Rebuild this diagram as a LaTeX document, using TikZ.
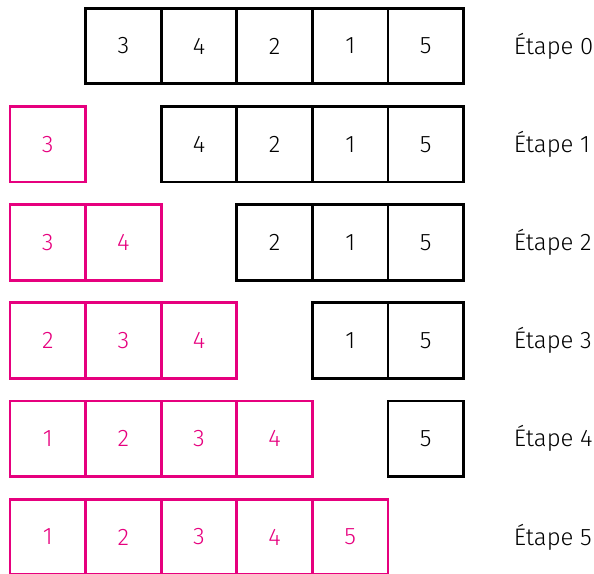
\documentclass[tikz,border=0pt]{standalone}
\usepackage{fontspec}
\setmainfont{Fira Sans}[UprightFont=* Light]
\usetikzlibrary{positioning}
\definecolor{rose}{RGB}{230,0,126}
\tikzset{
  cell/.style={draw, line width=2.1pt, minimum width=1.89cm, minimum height=1.89cm,
      inner sep=0pt, font=\fontsize{17}{20}\selectfont},
  done/.style={cell, draw=rose, text=rose},
  todo/.style={cell, draw=black},
  stage/.style={anchor=base west, font=\fontsize{17}{20}\selectfont},
}

\begin{document}
\begin{tikzpicture}[x=0.025cm, y=-0.025cm]
  \useasboundingbox (0,0) rectangle (594,574);
  % sorted part
  \foreach \r/\vals in {1/{3}, 2/{3,4}, 3/{2,3,4}, 4/{1,2,3,4}, 5/{1,2,3,4,5}} {
    \foreach \v [count=\c from 0] in \vals
      \node[done] (p-\r-\c) at ({47.8+75.6*\c},{46+98.2*\r}) {\v};
  }
  % part still to insert
  \foreach \r in {0,...,4} {
    \foreach \v [count=\i from 0] in {3,4,2,1,5} {
      \ifnum\i<\r\else
        \node[todo] (b-\r-\i) at ({47.8+75.6*(\i+1)},{46+98.2*\r}) {\v};
      \fi
    }
  }
  % stage labels
  \foreach \r in {0,...,5}
    \node[stage] (lab-\r) at (509,{54+98.2*\r}) {Étape \r};
\end{tikzpicture}
\end{document}
